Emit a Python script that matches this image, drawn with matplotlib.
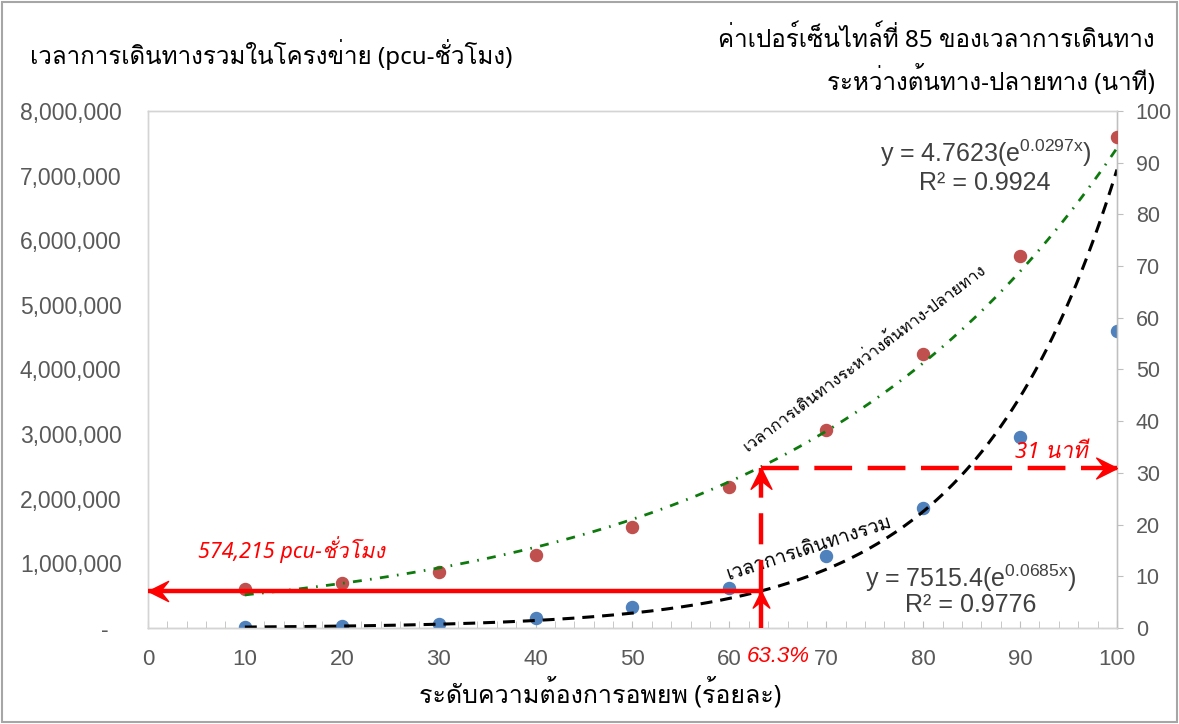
import numpy as np
import matplotlib
matplotlib.use("Agg")
import matplotlib.pyplot as plt
from matplotlib.ticker import FuncFormatter, MultipleLocator
from matplotlib.path import Path
from matplotlib.markers import MarkerStyle
from matplotlib.transforms import Affine2D, blended_transform_factory
from matplotlib.patches import Rectangle

# ระดับความต้องการอพยพ (ร้อยละ)
demand = [10, 20, 30, 40, 50, 60, 70, 80, 90, 100]
# เวลาการเดินทางรวมในโครงข่าย (pcu-ชั่วโมง)
total_time = [15000, 30000, 60000, 150000, 330000, 620000, 1115000, 1860000, 2960000, 4590000]
# ค่าเปอร์เซ็นไทล์ที่ 85 ของเวลาเดินทาง (นาที)
p85_time = [7.5, 8.7, 10.8, 14.1, 19.5, 27.3, 38.3, 53.0, 72.0, 95.0]

# trend lines: y = a * exp(b * x)
total_fit = (7515.4, 0.0685, 0.9776)
p85_fit = (4.7623, 0.0297, 0.9924)

# reading at 63.3 %
target_pct = 63.3
target_total = 574215
target_min = 31

left_max = 8000000
right_max = 100
k = right_max / left_max

plt.rcParams["mathtext.fontset"] = "custom"
plt.rcParams["mathtext.rm"] = "Liberation Sans"
plt.rcParams["mathtext.it"] = "Liberation Sans"

thai = ["Noto Sans", "Loma", "DejaVu Sans"]
latin = ["Liberation Sans", "DejaVu Sans"]
narrow = ["Liberation Sans Narrow", "Liberation Sans", "DejaVu Sans"]

fig = plt.figure(figsize=(11.79, 7.24), dpi=100)
ax = fig.add_axes([0.1255, 0.1326, 0.8219, 0.7141])
ax2 = ax.twinx()

ax.set_xlim(0, 100)
ax.set_ylim(0, left_max)
ax2.set_ylim(0, right_max)

xs = np.linspace(10, 100, 300)

# total network travel time (left axis)
ax.scatter(demand, total_time, s=75, color="#4F81BD", zorder=3)
ax.plot(xs, total_fit[0] * np.exp(total_fit[1] * xs), color="black", lw=2.2,
        dashes=(3.9, 2.6), zorder=4)

# 85th percentile OD travel time (right axis)
ax2.scatter(demand, p85_time, s=75, color="#C0504D", zorder=3)
ax2.plot(xs, p85_fit[0] * np.exp(p85_fit[1] * xs), color="#0E7A0E", lw=2.0,
         dashes=(3.2, 3.0, 0.6, 3.0), zorder=4)

# axes styling
for a in (ax, ax2):
    for s in a.spines.values():
        s.set_color("#d4d4d4")
        s.set_linewidth(1.0)
ax2.spines["right"].set_color("#bfbfbf")
ax.spines["bottom"].set_color("#bfbfbf")

ax.xaxis.set_major_locator(MultipleLocator(10))
ax.xaxis.set_minor_locator(MultipleLocator(2))
ax.yaxis.set_major_locator(MultipleLocator(1000000))
ax2.yaxis.set_major_locator(MultipleLocator(10))
ax.yaxis.set_major_formatter(FuncFormatter(lambda v, p: "-  " if v == 0 else f"{v:,.0f}"))

ax.tick_params(axis="x", which="both", direction="in", color="#bfbfbf", pad=15,
               labelsize=16, labelcolor="#595959")
ax.tick_params(axis="x", which="major", length=5)
ax.tick_params(axis="x", which="minor", length=5)
ax.tick_params(axis="y", length=0, pad=19, labelsize=16.5, labelcolor="#595959")
ax2.tick_params(axis="y", length=4, direction="out", color="#bfbfbf", pad=9.5,
                labelsize=15.5, labelcolor="#595959")
for lab in ax.get_xticklabels():
    lab.set_family(narrow)
for lab in ax.get_yticklabels() + ax2.get_yticklabels():
    lab.set_family(latin)

# red guide arrows
head = Path([(0, 0), (-1, 0.5), (-0.6, 0), (-1, -0.5), (0, 0)],
            [Path.MOVETO, Path.LINETO, Path.LINETO, Path.LINETO, Path.CLOSEPOLY])


def arrow_head(x, y, angle, size):
    m = MarkerStyle(head, transform=Affine2D().rotate_deg(angle))
    ax2.plot([x], [y], marker=m, markersize=size, color="red", mec="red",
             linestyle="none", zorder=7)


y_total = target_total * k
ax2.plot([target_pct, 0], [y_total, y_total], color="red", lw=3.2,
         solid_capstyle="butt", zorder=6)
arrow_head(0, y_total, 180, 29)
ax2.plot([target_pct, target_pct], [0, y_total], color="red", lw=3.2,
         solid_capstyle="butt", zorder=6)
arrow_head(target_pct, y_total, 90, 24)
ax2.plot([target_pct, target_pct], [y_total, target_min], color="red", lw=3.2,
         dashes=(7, 3.5), zorder=6)
arrow_head(target_pct, target_min, 90, 30)
ax2.plot([target_pct, 100], [target_min, target_min], color="red", lw=3.2,
         dashes=(8.5, 3.5), zorder=6)
arrow_head(100, target_min, 0, 30)

ax.text(5.2, 1210000, f"{target_total:,} pcu-ชั่วโมง", color="red", style="italic",
        fontsize=15.5, family=thai, va="center", ha="left", zorder=8)
ax2.text(93.2, 34, f"{target_min} นาที", color="red", style="italic", fontsize=16,
         family=thai, va="center", ha="center", zorder=8)
tx = blended_transform_factory(ax.transData, ax.transAxes)
ax.text(65.0, -0.055, f"{target_pct}%", transform=tx, color="red", style="italic",
        fontsize=16, family=narrow, ha="center", va="center")

# labels along the trend lines
ax2.text(74.0, 52.2, "เวลาการเดินทางระหว่างต้นทาง-ปลายทาง", rotation=37,
         rotation_mode="anchor", ha="center", va="center", fontsize=12, family=thai,
         color="black", zorder=8)
ax2.text(68.2, 1222000 * k, "เวลาการเดินทางรวม", rotation=18, rotation_mode="anchor",
         ha="center", va="center", fontsize=14, family=thai, color="black", zorder=5)

# trend equations
eq_color = "#404040"
ax2.text(86.5, 91.9, f"y = {p85_fit[0]}(e$^{{{p85_fit[1]}x}}$)", ha="center", va="center",
         fontsize=18, family=latin, color=eq_color, zorder=8)
ax2.text(86.4, 86.1, f"R² = {p85_fit[2]}", ha="center", va="center",
         fontsize=18, family=latin, color=eq_color, zorder=8)
ax2.text(84.9, 9.7, f"y = {total_fit[0]}(e$^{{{total_fit[1]}x}}$)", ha="center", va="center",
         fontsize=18, family=latin, color=eq_color, zorder=8)
ax2.text(84.9, 4.4, f"R² = {total_fit[2]}", ha="center", va="center",
         fontsize=18, family=latin, color=eq_color, zorder=8)

# titles
fig.text(30 / 1179, 1 - 55 / 724, "เวลาการเดินทางรวมในโครงข่าย (pcu-ชั่วโมง)",
         ha="left", va="center", fontsize=17.4, family=thai)
fig.text(1155 / 1179, 1 - 40 / 724, "ค่าเปอร์เซ็นไทล์ที่ 85 ของเวลาการเดินทาง",
         ha="right", va="center", fontsize=17.4, family=thai)
fig.text(1155 / 1179, 1 - 80 / 724, "ระหว่างต้นทาง-ปลายทาง (นาที)",
         ha="right", va="center", fontsize=17.4, family=thai)
fig.text(600 / 1179, 1 - 693 / 724, "ระดับความต้องการอพยพ (ร้อยละ)",
         ha="center", va="center", fontsize=18, family=thai)

fig.patches.append(Rectangle((0.002, 0.003), 0.996, 0.994, transform=fig.transFigure,
                             fill=False, edgecolor="#a6a6a6", lw=1.5))

fig.savefig("out.png")
